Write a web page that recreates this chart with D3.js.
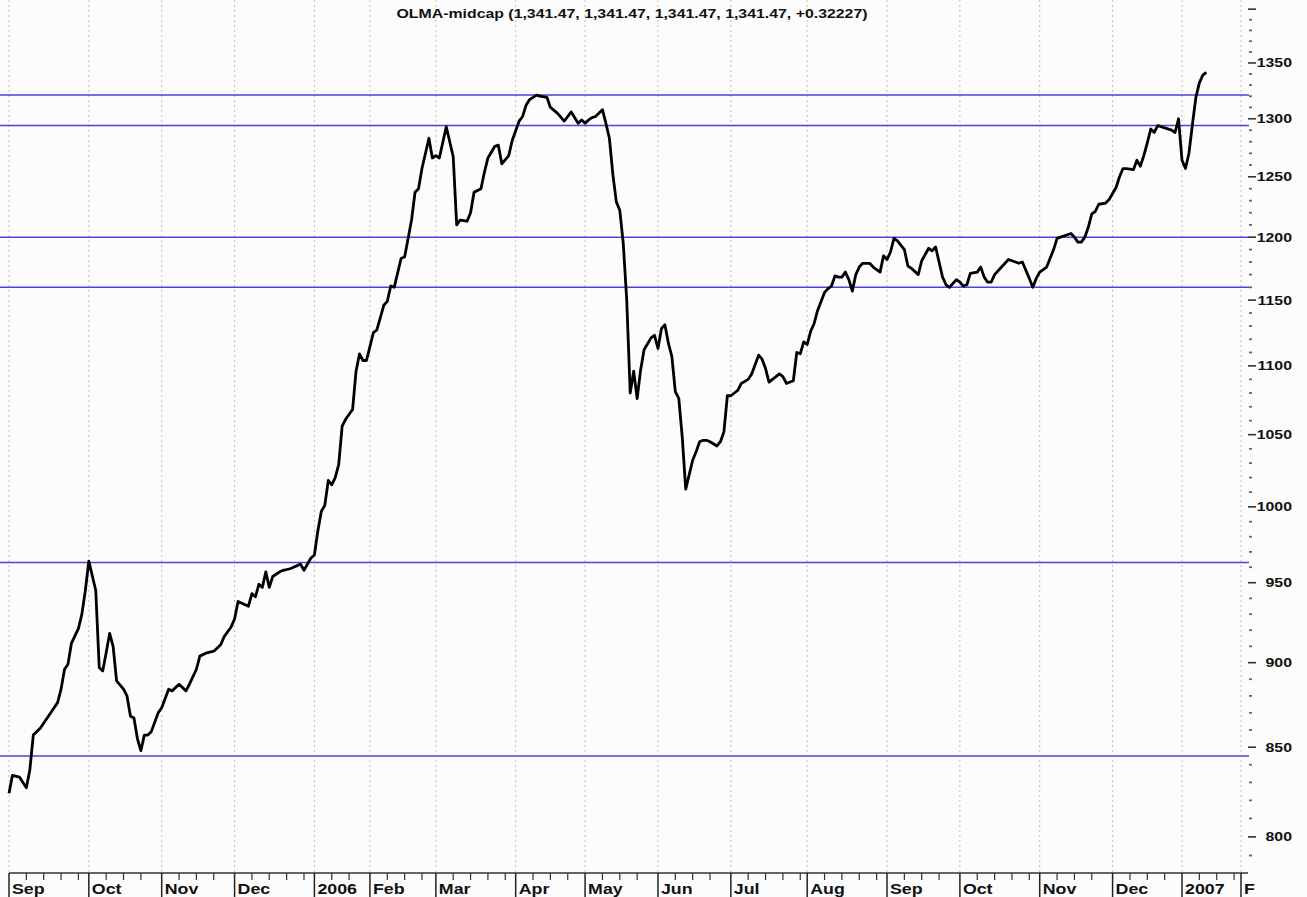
<!DOCTYPE html>
<html>
<head>
<meta charset="utf-8">
<script src="https://cdn.jsdelivr.net/npm/d3@7"></script>
<style>
  body { margin: 0; background: #fcfcfc; }
  svg { display: block; }
  text { font-family: Arial, "Liberation Sans", sans-serif; font-weight: bold; fill: #111; }
</style>
</head>
<body>
<svg id="chart"></svg>
<script>
// trading day number (0 = first day of Sep 2005) and close
const day = [
  0, 1, 3, 5, 6, 7, 9, 11, 13, 14, 15, 16, 17, 18, 20, 21, 22, 23, 25, 26,
  27, 28, 29, 30, 31, 33, 34, 35, 36, 37, 38, 39, 40, 41, 43, 44, 46, 47, 49, 51,
  52, 54, 55, 57, 59, 61, 62, 64, 65, 66, 69, 70, 71, 72, 73, 74, 75, 76, 78, 79,
  81, 82, 84, 85, 86, 87, 88, 89, 90, 91, 92, 93, 94, 95, 96, 97, 99, 100, 101, 102,
  103, 105, 106, 108, 109, 110, 111, 113, 114, 116, 117, 118, 119, 121, 122, 123, 124, 126, 128, 129,
  130, 132, 133, 134, 136, 137, 138, 140, 141, 142, 144, 145, 147, 148, 149, 150, 152, 153, 155, 156,
  158, 160, 161, 162, 164, 165, 166, 167, 168, 169, 171, 172, 173, 174, 175, 176, 177, 178, 179, 180,
  181, 182, 183, 185, 186, 187, 188, 189, 190, 191, 192, 193, 194, 195, 196, 197, 198, 199, 200, 201,
  202, 204, 205, 206, 207, 208, 210, 211, 213, 214, 216, 217, 218, 219, 221, 222, 223, 224, 226, 227,
  228, 229, 230, 231, 232, 233, 234, 235, 236, 237, 238, 239, 240, 241, 242, 243, 244, 245, 246, 248,
  249, 251, 252, 253, 254, 255, 256, 258, 259, 260, 262, 263, 265, 266, 267, 268, 269, 270, 271, 273,
  274, 275, 276, 277, 279, 280, 281, 282, 283, 284, 286, 287, 288, 290, 291, 292, 294, 295, 296, 297,
  299, 300, 301, 302, 303, 305, 306, 307, 308, 309, 310, 311, 312, 313, 314, 316, 317, 319, 320, 321,
  322, 324, 325, 326, 327, 328, 329, 330, 331, 332, 333, 335, 336, 337, 338, 339, 340, 341, 342, 343,
  344, 345
];
const close = [
  824, 834, 833, 827, 837, 857, 861, 867, 873, 876, 884, 896, 899, 912, 921, 930, 945, 964, 945, 897,
  895, 906, 918, 910, 889, 884, 880, 868, 867, 855, 848, 857, 857, 859, 870, 873, 884, 883, 887, 883,
  887, 896, 904, 906, 907, 911, 916, 922, 927, 938, 935, 943, 941, 949, 947, 957, 947, 954, 957, 958,
  959, 960, 962, 958, 962, 966, 968, 984, 997, 1001, 1018, 1015, 1020, 1029, 1056, 1061, 1068, 1096, 1109, 1104,
  1104, 1125, 1127, 1146, 1149, 1161, 1160, 1183, 1184, 1214, 1237, 1240, 1257, 1283, 1266, 1268, 1266, 1293, 1267, 1210,
  1214, 1213, 1220, 1237, 1240, 1254, 1266, 1276, 1277, 1261, 1268, 1281, 1298, 1302, 1312, 1317, 1321, 1320, 1319, 1310,
  1305, 1298, 1302, 1306, 1296, 1299, 1296, 1299, 1301, 1302, 1308, 1296, 1283, 1252, 1229, 1222, 1195, 1150, 1080, 1096,
  1076, 1097, 1112, 1121, 1123, 1113, 1128, 1131, 1117, 1107, 1081, 1076, 1048, 1012, 1022, 1032, 1038, 1045, 1046, 1046,
  1045, 1042, 1045, 1052, 1078, 1078, 1082, 1087, 1090, 1094, 1108, 1105, 1098, 1088, 1092, 1094, 1092, 1087, 1089, 1110,
  1109, 1118, 1116, 1126, 1132, 1142, 1149, 1156, 1159, 1161, 1169, 1168, 1168, 1172, 1166, 1157, 1170, 1176, 1179, 1179,
  1176, 1172, 1185, 1182, 1188, 1199, 1197, 1190, 1177, 1175, 1170, 1181, 1191, 1189, 1192, 1180, 1168, 1162, 1160, 1166,
  1164, 1161, 1162, 1171, 1172, 1176, 1168, 1164, 1164, 1170, 1176, 1179, 1182, 1180, 1179, 1180, 1167, 1160, 1167, 1172,
  1176, 1183, 1190, 1199, 1200, 1202, 1203, 1200, 1196, 1196, 1200, 1208, 1219, 1221, 1227, 1228, 1231, 1241, 1250, 1257,
  1257, 1256, 1264, 1259, 1268, 1279, 1291, 1288, 1294, 1293, 1292, 1290, 1288, 1300, 1264, 1257, 1270, 1295, 1319, 1332,
  1339, 1341.47
];

// first trading day of each month on the axis
const monthLabels = ["Sep", "Oct", "Nov", "Dec", "2006", "Feb", "Mar", "Apr", "May",
                     "Jun", "Jul", "Aug", "Sep", "Oct", "Nov", "Dec", "2007", "F"];
const monthStart = [0, 23, 44, 65, 88, 104, 123, 146, 166, 187, 208, 230, 253, 274, 297, 318, 338, 355];

// horizontal support / resistance lines
const levels = [845, 963, 1160, 1200, 1294, 1321];

const priceLabels = [800, 850, 900, 950, 1000, 1050, 1100, 1150, 1200, 1250, 1300, 1350];
const titleText = "OLMA-midcap (1,341.47, 1,341.47, 1,341.47, 1,341.47, +0.32227)";

class LevelChart {
  constructor(_config) {
    this.config = {
      parentElement: _config.parentElement,
      containerWidth: _config.containerWidth || 1307,
      containerHeight: _config.containerHeight || 897
    };
    this.initVis();
  }

  initVis() {
    let vis = this;
    vis.plotLeft = 9;
    vis.plotRight = 1241;
    vis.plotBottom = 873;
    vis.stretch = 1.27; // the source image is a little wider than tall

    vis.svg = d3.select(vis.config.parentElement)
      .attr('width', vis.config.containerWidth)
      .attr('height', vis.config.containerHeight);

    vis.xScale = d3.scaleLinear()
      .domain([0, 355])
      .range([vis.plotLeft, vis.plotRight]);

    vis.yScale = d3.scaleLog()
      .domain([780.7, 1408.7])
      .range([vis.plotBottom, 0]);

    vis.renderVis();
  }

  renderVis() {
    let vis = this;
    const x = vis.xScale, y = vis.yScale;

    // month grid, dotted
    vis.svg.append('g').selectAll('line')
      .data(monthStart)
      .join('line')
        .attr('x1', d => x(d)).attr('x2', d => x(d))
        .attr('y1', 0).attr('y2', vis.plotBottom)
        .attr('stroke', '#bcbcbc')
        .attr('stroke-dasharray', '2,3');

    // level lines
    vis.svg.append('g').selectAll('line')
      .data(levels)
      .join('line')
        .attr('x1', 0).attr('x2', 1249)
        .attr('y1', d => y(d)).attr('y2', d => y(d))
        .attr('stroke', '#4646dc')
        .attr('stroke-width', 1.5);

    // price line
    const line = d3.line()
      .x((d, i) => x(day[i]))
      .y(d => y(d));
    vis.svg.append('path')
      .datum(close)
      .attr('d', line)
      .attr('fill', 'none')
      .attr('stroke', '#000')
      .attr('stroke-width', 2.8)
      .attr('stroke-linejoin', 'round');

    // bottom axis
    const bottom = vis.svg.append('g');
    bottom.append('line')
      .attr('x1', vis.plotLeft).attr('x2', 1248)
      .attr('y1', vis.plotBottom).attr('y2', vis.plotBottom)
      .attr('stroke', '#333').attr('stroke-width', 1.3);

    let weekTicks = [];
    monthStart.forEach((m, i) => {
      if (i == monthStart.length - 1) return;
      for (let k = m + 5; k < monthStart[i + 1] - 1; k += 5) weekTicks.push(k);
    });
    bottom.selectAll('.wk')
      .data(weekTicks)
      .join('line')
        .attr('class', 'wk')
        .attr('x1', d => x(d)).attr('x2', d => x(d))
        .attr('y1', vis.plotBottom).attr('y2', vis.plotBottom + 7)
        .attr('stroke', '#333').attr('stroke-width', 1.2);

    bottom.selectAll('.sep')
      .data(monthStart)
      .join('line')
        .attr('class', 'sep')
        .attr('x1', d => x(d)).attr('x2', d => x(d))
        .attr('y1', vis.plotBottom).attr('y2', 897)
        .attr('stroke', '#222').attr('stroke-width', 1.5);

    bottom.selectAll('text')
      .data(monthLabels)
      .join('text')
        .attr('transform', (d, i) => `translate(${x(monthStart[i]) + 3},894) scale(${vis.stretch},1)`)
        .attr('font-size', '14px')
        .text(d => d);

    // right axis, ticks every 10 points
    const right = vis.svg.append('g');
    right.selectAll('line')
      .data(d3.range(790, 1401, 10))
      .join('line')
        .attr('x1', d => d % 50 == 0 ? 1248 : 1249)
        .attr('x2', d => d % 50 == 0 ? 1256 : 1252)
        .attr('y1', d => y(d)).attr('y2', d => y(d))
        .attr('stroke', d => d % 50 == 0 ? '#333' : '#666')
        .attr('stroke-width', d => d % 50 == 0 ? 1.6 : 1.8);

    right.selectAll('text')
      .data(priceLabels)
      .join('text')
        .attr('transform', d => `translate(1292,${y(d)}) scale(${vis.stretch},1)`)
        .attr('text-anchor', 'end')
        .attr('dy', '0.36em')
        .attr('font-size', '12.5px')
        .text(d => d);

    // title
    vis.svg.append('text')
      .attr('transform', `translate(632,18) scale(${vis.stretch},1)`)
      .attr('text-anchor', 'middle')
      .attr('font-size', '12.5px')
      .text(titleText);
  }
}

new LevelChart({ parentElement: '#chart' });
</script>
</body>
</html>
